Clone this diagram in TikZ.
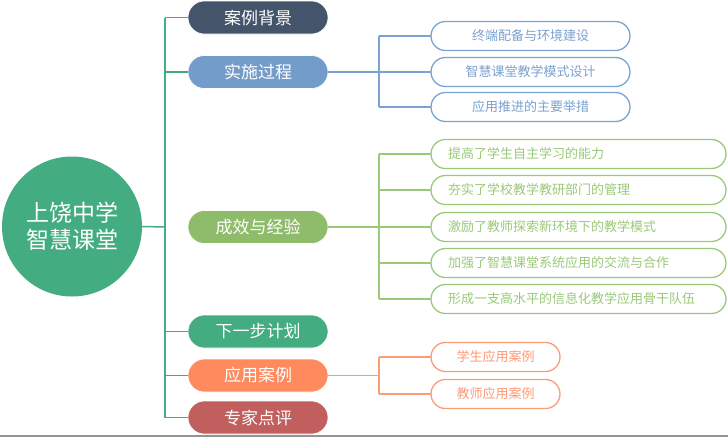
\documentclass[tikz,border=0pt]{standalone}
\usepackage{fontspec}
\setmainfont{Noto Sans CJK SC}
\usetikzlibrary{shapes.misc}
\definecolor{cTrunk}{HTML}{43AC80}
\definecolor{cDark}{HTML}{44546A}
\definecolor{cBlue}{HTML}{749CCB}
\definecolor{cGreen}{HTML}{8FBC6A}
\definecolor{cOrange}{HTML}{FF8A5E}
\definecolor{cRed}{HTML}{C05F5E}
\definecolor{sBlue}{HTML}{7BA2D0}
\definecolor{sGreen}{HTML}{9BC97A}
\definecolor{sOrange}{HTML}{FF9A76}
\tikzset{
  mainbox/.style={rounded rectangle, minimum width=140pt, minimum height=33pt, inner sep=0pt, text=white, font=\fontsize{17}{20}\selectfont, draw=white, line width=0.6pt},
  subbox/.style={rounded rectangle, minimum height=29pt, inner sep=0pt, fill=white, line width=1.3pt, font=\fontsize{13}{15}\selectfont},
  link/.style={line width=1.5pt},
}
\begin{document}
\begin{tikzpicture}[x=1pt,y=-1pt]
\useasboundingbox (0,0) rectangle (728,437);
\fill[white] (0,0) rectangle (728,437);
\draw[gray!85, line width=2pt] (0,436) -- (728,436);
% trunk
\coordinate (tt) at (165,17.5);
\coordinate (tb) at (165,417.5);
\coordinate (tm) at (165,227);
\node[circle, fill=cTrunk, minimum size=140pt, inner sep=0pt, text=white, align=center, font=\fontsize{23}{27}\selectfont] (root) at (72,226.5) {上饶中学\\智慧课堂};
\draw[cTrunk, link] (tt) -- (tb);
\draw[cTrunk, link] (root.east) -- (tm);
% main nodes
\node[mainbox, fill=cDark] (m1) at (258,17.5) {案例背景};
\node[mainbox, fill=cBlue] (m2) at (258,72) {实施过程};
\node[mainbox, fill=cGreen] (m3) at (258,227) {成效与经验};
\node[mainbox, fill=cTrunk] (m4) at (258,331.5) {下一步计划};
\node[mainbox, fill=cOrange] (m5) at (258,375.5) {应用案例};
\node[mainbox, fill=cRed] (m6) at (258,417.5) {专家点评};
\foreach \m in {m1,m2,m4,m5,m6} {\draw[cTrunk, link] (\m.west) -- (165,0 |- \m.west);}
% sub of m2
\coordinate (b2) at (379,72);
\draw[sBlue, link] (m2.east) -- (b2);
\draw[sBlue, link] (379,36) -- (379,107);
\foreach \y/\t/\n in {36/终端配备与环境建设/s21, 72/智慧课堂教学模式设计/s22, 107/应用推进的主要举措/s23} {
  \draw[sBlue, link] (379,\y) -- (431,\y);
  \node[subbox, draw=sBlue, text=sBlue, minimum width=199pt] (\n) at (530.5,\y) {\t};
}
% sub of m3
\coordinate (b3) at (379,227);
\draw[sGreen, link] (m3.east) -- (b3);
\draw[sGreen, link] (379,154) -- (379,299);
\foreach \y/\t/\n in {154/提高了学生自主学习的能力/s31, 190/夯实了学校教学教研部门的管理/s32, 227/激励了教师探索新环境下的教学模式/s33, 263/加强了智慧课堂系统应用的交流与合作/s34, 299/形成一支高水平的信息化教学应用骨干队伍/s35} {
  \draw[sGreen, link] (379,\y) -- (431,\y);
  \node[subbox, draw=sGreen, minimum width=295pt] (\n) at (578.5,\y) {};
  \node[anchor=west, text=sGreen, font=\fontsize{13}{15}\selectfont, inner sep=0pt] at (448,\y) {\t};
}
% sub of m5
\coordinate (b5) at (379,375.5);
\draw[sOrange, link] (m5.east) -- (b5);
\draw[sOrange, link] (379,357) -- (379,394);
\foreach \y/\t/\n in {357/学生应用案例/s51, 394/教师应用案例/s52} {
  \draw[sOrange, link] (379,\y) -- (431,\y);
  \node[subbox, draw=sOrange, text=sOrange, minimum width=129pt] (\n) at (495.5,\y) {\t};
}
\end{tikzpicture}
\end{document}
